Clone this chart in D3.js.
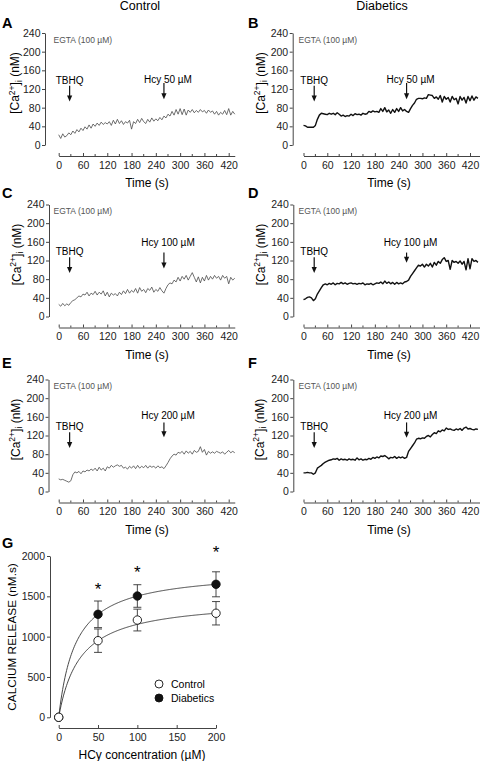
<!DOCTYPE html>
<html><head><meta charset="utf-8">
<script src="https://cdn.jsdelivr.net/npm/d3@7"></script>
<style>body{margin:0;background:#fff}</style>
</head><body>
<svg id="c" width="480" height="761"></svg>
<script>
// ---------- DATA ----------
const timeS = [0,5,10,15,20,25,30,35,40,45,50,55,60,65,70,75,80,85,90,95,100,105,110,115,120,125,130,135,140,145,150,155,160,165,170,175,180,185,190,195,200,205,210,215,220,225,230,235,240,245,250,255,260,265,270,275,280,285,290,295,300,305,310,315,320,325,330,335,340,345,350,355,360,365,370,375,380,385,390,395,400,405,410,415,420,425,430,435,440];
const ctrl50 = [22,14,24,17,20,26,22,30,25,33,28,36,31,39,34,43,36,45,40,47,42,49,44,48,45,50,42,53,45,55,46,52,44,50,47,53,34,50,46,55,48,57,50,46,55,49,58,51,56,52,59,54,62,58,66,62,72,64,76,66,78,65,77,64,75,70,76,69,74,70,76,71,74,68,75,70,73,66,72,64,70,66,74,65,78,64,72,66];
const ctrl100 = [26,22,28,23,27,24,30,34,36,40,44,42,48,46,52,44,50,47,54,46,52,48,55,44,52,42,50,46,49,44,52,47,55,49,58,50,56,52,60,50,62,54,58,51,60,56,63,52,58,54,62,55,50,60,68,72,70,78,74,84,76,86,80,88,78,86,94,84,74,85,72,84,76,88,78,86,80,88,82,86,78,88,82,86,70,84,78,82];
const ctrl200 = [27,25,26,24,22,20,23,36,42,40,43,38,44,42,46,44,48,45,50,44,52,46,50,44,53,50,56,52,55,57,54,56,50,52,48,54,50,55,49,56,50,54,51,56,50,55,52,54,50,55,51,53,49,55,62,70,76,80,78,84,82,86,80,87,82,86,80,88,84,86,96,84,90,78,86,82,85,82,86,84,82,85,80,84,88,83,86,83];
const diab50 = [42,41,38,38,38,38,42,55,64,68,67,66,65,68,66,68,65,69,66,62,64,61,63,62,66,63,67,65,66,64,68,66,67,72,70,73,71,72,70,78,72,80,71,75,68,76,70,78,72,80,73,76,72,70,78,85,90,98,100,100,99,101,100,108,107,106,100,103,98,106,92,104,98,102,92,104,97,100,88,104,96,102,90,104,95,105,96,103,100];
const diab100 = [36,38,41,42,40,34,38,48,55,62,68,70,68,71,69,72,68,71,70,73,70,72,69,71,72,70,71,69,71,70,72,68,70,69,71,68,70,72,71,74,70,76,71,74,70,73,69,73,70,72,70,74,75,78,86,92,98,104,110,108,112,106,112,108,114,106,116,110,118,114,122,126,118,120,101,120,116,118,114,119,112,118,100,124,102,124,118,120,116];
const diab200 = [40,40,41,40,40,37,40,50,53,56,60,63,65,67,68,70,69,71,67,70,68,69,67,70,68,69,67,72,68,70,67,69,68,71,69,73,71,74,72,76,75,77,74,70,73,72,75,71,74,72,74,71,73,86,92,98,104,112,114,113,115,114,118,120,117,122,126,124,130,128,132,130,136,133,134,132,131,134,132,135,131,136,138,134,135,133,132,134,133];

const traceYTicks = [0,40,80,120,160,200,240];
const traceXTicks = [0,60,120,180,240,300,360,420];
const columnTitles = ["Control","Diabetics"];
const hcyLabels = ["Hcy 50 µM","Hcy 100 µM","Hcy 200 µM"];
const tbhqTime = 27, hcyTime = 260;

// Panel G
const hcyConc = [0,50,100,200];
const ctrlRelease = [0,950,1206,1290];
const ctrlSE = [0,145,135,145];
const diabRelease = [0,1277,1504,1649];
const diabSE = [0,165,140,155];
const fitCtrl = [1465, 27.1];   // Bmax, K of fitted hyperbola
const fitDiab = [1826, 21.5];
const sigConc = [50,100,200];
const sigLevel = [1628,1839,2087];
const gYTicks = [0,500,1000,1500,2000];
const gXTicks = [0,50,100,150,200];
const legendLabels = ["Control","Diabetics"];

// ---------- DRAW ----------
const FONT = "Liberation Sans, Arial, Helvetica, sans-serif";
const svg = d3.select("#c").style("font-family", FONT);

svg.append("text").attr("x",140).attr("y",10).attr("text-anchor","middle").attr("font-size",12.5).text(columnTitles[0]);
svg.append("text").attr("x",382).attr("y",10).attr("text-anchor","middle").attr("font-size",12.5).text(columnTitles[1]);

const panels = [
 {letter:"A", vals:ctrl50,  hcy:hcyLabels[0], diab:false, Y0:145,   yAx:45,    lb:28,  ylx:15,  hcyText:141, hcyArrow:[133,98]},
 {letter:"B", vals:diab50,  hcy:hcyLabels[0], diab:true,  Y0:145,   yAx:292.7, lb:28,  ylx:260.5, hcyText:141, hcyArrow:[133,98]},
 {letter:"C", vals:ctrl100, hcy:hcyLabels[1], diab:false, Y0:316.5, yAx:49,    lb:198, ylx:16.5, hcyText:159, hcyArrow:[137,103]},
 {letter:"D", vals:diab100, hcy:hcyLabels[1], diab:true,  Y0:316.5, yAx:293.3, lb:198, ylx:260.5, hcyText:159, hcyArrow:[137,115]},
 {letter:"E", vals:ctrl200, hcy:hcyLabels[2], diab:false, Y0:491.5, yAx:48.5,  lb:368, ylx:15.5, hcyText:163, hcyArrow:[148,116]},
 {letter:"F", vals:diab200, hcy:hcyLabels[2], diab:true,  Y0:491.5, yAx:293.3, lb:368, ylx:259.5, hcyText:163, hcyArrow:[148,115]}
];

function arrow(g, x, yTop, yTip){
  g.append("line").attr("x1",x).attr("x2",x).attr("y1",yTop).attr("y2",yTip-4)
    .attr("stroke","#111").attr("stroke-width",1.2);
  g.append("path").attr("d",`M${x-2.6},${yTip-6}L${x+2.6},${yTip-6}L${x},${yTip}Z`).attr("fill","#111");
}

panels.forEach(p => {
  const g = svg.append("g");
  const x0 = p.diab ? 303.5 : 58.7, x420 = p.diab ? 470 : 228.7;
  const xEnd = p.diab ? 445 : 435;
  const x = d3.scaleLinear().domain([0,420]).range([x0,x420]);
  const y = d3.scaleLinear().domain([0,240]).range([p.Y0, p.Y0-112]);

  const ya = g.append("g").attr("transform",`translate(${p.yAx},0)`)
    .call(d3.axisLeft(y).tickValues(traceYTicks).tickSizeInner(3).tickSizeOuter(0).tickPadding(1.5));
  ya.selectAll("text").attr("font-size",10.5).attr("font-family",FONT).attr("fill","#222");
  ya.selectAll("line,path").attr("stroke","#444");

  const xa = x.copy().domain([0,xEnd]).range([x0, x(xEnd)]);
  const xg = g.append("g").attr("transform",`translate(0,${p.Y0+11})`)
    .call(d3.axisBottom(xa).tickValues(traceXTicks).tickFormat(d3.format("d")).tickSizeInner(-3).tickSizeOuter(0).tickPadding(5.5));
  xg.selectAll("text").attr("font-size",10.5).attr("font-family",FONT).attr("fill","#222");
  xg.selectAll("line,path").attr("stroke","#444");
  xg.selectAll(".minor").data(traceXTicks.slice(0,-1).map(t=>t+30)).enter().append("line")
    .attr("x1",d=>xa(d)).attr("x2",d=>xa(d)).attr("y1",0).attr("y2",-2).attr("stroke","#444");

  const line = d3.line().x((d,i)=>x(timeS[i])).y(d=>y(d));
  g.append("path").datum(p.vals).attr("d",line).attr("fill","none")
    .attr("stroke", p.diab ? "#111" : "#4a4a4a")
    .attr("stroke-width", p.diab ? 1.4 : 0.8).attr("stroke-linejoin","round");

  g.append("text").attr("x", p.diab ? 248 : 2).attr("y", p.lb).attr("font-size",14.5).attr("font-weight","bold").text(p.letter);
  g.append("text").attr("x", p.diab ? 298.5 : 53.5).attr("y", p.Y0-105.5).attr("dominant-baseline","central")
    .attr("font-size",8.5).attr("fill","#555").text("EGTA (100 µM)");
  g.append("text").attr("x", p.diab ? 389 : 147).attr("y", p.Y0+38).attr("dominant-baseline","central")
    .attr("text-anchor","middle").attr("font-size",12).text("Time (s)");

  const yl = g.append("text").attr("transform",`translate(${p.ylx+4},${p.Y0-62}) rotate(-90)`)
    .attr("text-anchor","middle").attr("font-size",12);
  yl.append("tspan").text("[Ca");
  yl.append("tspan").attr("font-size",8.5).attr("dy",-4.5).text("2+");
  yl.append("tspan").attr("dy",4.5).text("]");
  yl.append("tspan").attr("font-size",8.5).attr("dy",2.5).text("i");
  yl.append("tspan").attr("dy",-2.5).text(" (nM)");

  g.append("text").attr("x", x(tbhqTime)).attr("y", y(139)).attr("dominant-baseline","central")
    .attr("text-anchor","middle").attr("font-size",10).text("TBHQ");
  arrow(g, x(tbhqTime), y(127), y(93));
  g.append("text").attr("x", x(hcyTime)+4).attr("y", y(p.hcyText)).attr("dominant-baseline","central")
    .attr("text-anchor","middle").attr("font-size",10).text(p.hcy);
  arrow(g, x(hcyTime), y(p.hcyArrow[0]), y(p.hcyArrow[1]));
});

// ---------- PANEL G ----------
{
  const g = svg.append("g");
  const x = d3.scaleLinear().domain([0,200]).range([58.7,216]);
  const y = d3.scaleLinear().domain([0,2000]).range([717.3,556]);

  g.append("text").attr("x",2).attr("y",548).attr("font-size",14.5).attr("font-weight","bold").text("G");

  const ya = g.append("g").attr("transform","translate(50,0)")
    .call(d3.axisLeft(y).tickValues(gYTicks).tickFormat(d3.format("d")).tickSizeInner(3).tickSizeOuter(0).tickPadding(2));
  ya.selectAll("text").attr("font-size",10.5).attr("font-family",FONT).attr("fill","#222");
  ya.selectAll("line,path").attr("stroke","#444");

  const xg = g.append("g").attr("transform","translate(0,728)")
    .call(d3.axisBottom(x).tickValues(gXTicks).tickFormat(d3.format("d")).tickSizeInner(-3).tickSizeOuter(0).tickPadding(6));
  xg.selectAll("text").attr("font-size",10.5).attr("font-family",FONT).attr("fill","#222");
  xg.selectAll("line,path").attr("stroke","#444");

  g.append("text").attr("x",142).attr("y",755).attr("dominant-baseline","central").attr("text-anchor","middle")
    .attr("font-size",12).text("HCy concentration (µM)");
  g.append("text").attr("transform","translate(16,637) rotate(-90)").attr("text-anchor","middle")
    .attr("font-size",11.8).text("CALCIUM RELEASE (nM.s)");

  const fit = (f) => d3.range(0, 200.5, 1).map(c => [c, f[0]*c/(f[1]+c)]);
  const cl = d3.line().x(d=>x(d[0])).y(d=>y(d[1]));
  [fitDiab, fitCtrl].forEach(f => g.append("path").attr("d", cl(fit(f))).attr("fill","none")
    .attr("stroke","#333").attr("stroke-width",0.9));

  function series(vals, se, filled){
    const s = g.append("g");
    hcyConc.forEach((c,i) => {
      if (se[i] > 0) {
        const xx = x(c), yt = y(vals[i]+se[i]), yb = y(vals[i]-se[i]);
        s.append("line").attr("x1",xx).attr("x2",xx).attr("y1",yt).attr("y2",yb).attr("stroke","#333").attr("stroke-width",0.9);
        s.append("line").attr("x1",xx-4).attr("x2",xx+4).attr("y1",yt).attr("y2",yt).attr("stroke","#333").attr("stroke-width",0.9);
        s.append("line").attr("x1",xx-4).attr("x2",xx+4).attr("y1",yb).attr("y2",yb).attr("stroke","#333").attr("stroke-width",0.9);
      }
    });
    s.selectAll("circle").data(vals).enter().append("circle")
      .attr("cx",(d,i)=>x(hcyConc[i])).attr("cy",d=>y(d)).attr("r",4.2)
      .attr("fill", filled ? "#111" : "#fff").attr("stroke","#111").attr("stroke-width",0.9);
  }
  series(diabRelease, diabSE, true);
  series(ctrlRelease, ctrlSE, false);

  g.selectAll(".star").data(sigConc).enter().append("text")
    .attr("x",d=>x(d)).attr("y",(d,i)=>y(sigLevel[i])+9).attr("text-anchor","middle")
    .attr("font-size",17).text("*");

  const leg = g.append("g");
  legendLabels.forEach((t,i) => {
    const yy = 684 + i*14;
    leg.append("circle").attr("cx",159).attr("cy",yy).attr("r",4)
      .attr("fill", i ? "#111" : "#fff").attr("stroke","#111").attr("stroke-width",0.9);
    leg.append("text").attr("x",171).attr("y",yy).attr("dominant-baseline","central").attr("font-size",10.5).text(t);
  });
}
</script>
</body></html>
